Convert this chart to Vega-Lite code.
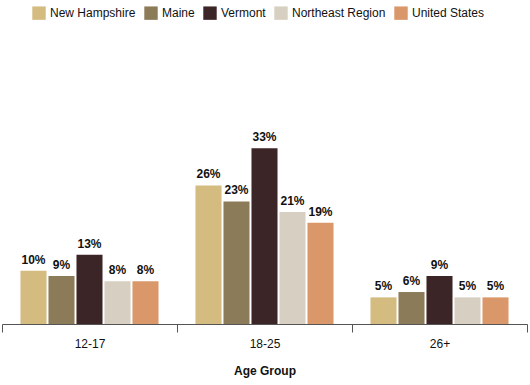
{
  "$schema": "https://vega.github.io/schema/vega-lite/v6.json",
  "autosize": "none",
  "width": 525,
  "height": 284,
  "padding": {"left": 2, "top": 40, "right": 3, "bottom": 61},
  "background": "white",
  "config": {"view": {"stroke": null}, "font": "Liberation Sans"},
  "data": {"values": [
    {"age": "12-17", "region": "New Hampshire", "v": 0.10},
    {"age": "12-17", "region": "Maine", "v": 0.09},
    {"age": "12-17", "region": "Vermont", "v": 0.13},
    {"age": "12-17", "region": "Northeast Region", "v": 0.08},
    {"age": "12-17", "region": "United States", "v": 0.08},
    {"age": "18-25", "region": "New Hampshire", "v": 0.26},
    {"age": "18-25", "region": "Maine", "v": 0.23},
    {"age": "18-25", "region": "Vermont", "v": 0.33},
    {"age": "18-25", "region": "Northeast Region", "v": 0.21},
    {"age": "18-25", "region": "United States", "v": 0.19},
    {"age": "26+", "region": "New Hampshire", "v": 0.05},
    {"age": "26+", "region": "Maine", "v": 0.06},
    {"age": "26+", "region": "Vermont", "v": 0.09},
    {"age": "26+", "region": "Northeast Region", "v": 0.05},
    {"age": "26+", "region": "United States", "v": 0.05}
  ]},
  "encoding": {
    "x": {"field": "age", "type": "nominal", "title": "Age Group",
      "scale": {"paddingInner": 0, "paddingOuter": 0},
      "axis": {"labelAngle": 0, "tickBand": "extent", "domainColor": "#555", "tickColor": "#555", "tickSize": 8, "labelFontSize": 12, "labelColor": "#111", "labelPadding": 6, "titleFontSize": 12, "titleFontWeight": "bold", "titleColor": "#111", "titlePadding": 16}},
    "xOffset": {"field": "region", "type": "nominal", "sort": ["New Hampshire", "Maine", "Vermont", "Northeast Region", "United States"],
      "scale": {"paddingInner": 0.07, "paddingOuter": 0.66}},
    "y": {"field": "v", "type": "quantitative", "scale": {"domain": [0, 0.533]}, "axis": null}
  },
  "layer": [
    {"mark": {"type": "bar"},
     "encoding": {"color": {"field": "region", "type": "nominal",
       "sort": ["New Hampshire", "Maine", "Vermont", "Northeast Region", "United States"],
       "scale": {"domain": ["New Hampshire", "Maine", "Vermont", "Northeast Region", "United States"],
                 "range": ["#D4BB80", "#8B7B58", "#3C2527", "#D7D0C2", "#D9976A"]},
       "legend": {"title": null, "orient": "none", "direction": "horizontal", "legendX": 30, "legendY": -34,
                  "symbolType": "square", "symbolSize": 180, "symbolStrokeWidth": 0, "labelFontSize": 12, "labelColor": "#111", "columnPadding": 8, "labelOffset": 4}}}},
    {"mark": {"type": "text", "dy": -11, "fontWeight": "bold", "fontSize": 12, "color": "#111"},
     "encoding": {"text": {"field": "v", "type": "quantitative", "format": ".0%"}}}
  ]
}
